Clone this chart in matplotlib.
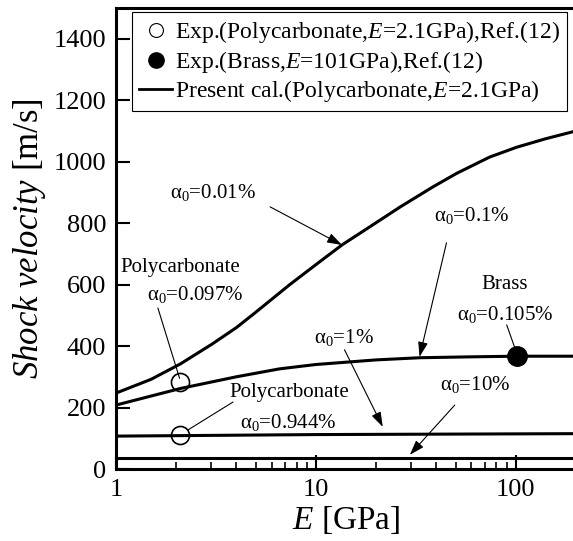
import matplotlib
matplotlib.use("Agg")
import matplotlib.pyplot as plt
from matplotlib.lines import Line2D

# ---- data ----
E_001 = [1, 1.5, 2.1, 3, 4, 5, 7.4, 10, 13.5, 18.6, 26.3, 38.5, 50.6, 74, 101, 140, 200]
V_001 = [247, 292, 342, 405, 460, 510, 600, 665, 729, 788, 852, 918, 962, 1015, 1047, 1074, 1100]

E_01 = [1, 2.1, 4, 6.6, 10, 20, 33, 60, 100, 200]
V_01 = [208, 262, 300, 326, 340, 355, 362, 365, 367, 367]

E_1 = [1, 10, 200]
V_1 = [107, 112, 115]

E_10 = [1, 200]
V_10 = [37, 37]

EXP_PC_E = [2.1, 2.1]
EXP_PC_V = [283, 112]
EXP_BR_E = [101]
EXP_BR_V = [368]

YTICKS = [0, 200, 400, 600, 800, 1000, 1200, 1400]
XTICKS = [1, 10, 100]
XTICKLABELS = ["1", "10", "100"]

FONT = "Liberation Serif"
plt.rcParams.update({
    "font.family": FONT,
    "mathtext.fontset": "custom",
    "mathtext.rm": FONT,
    "mathtext.it": FONT + ":italic",
    "mathtext.bf": FONT + ":bold",
})

fig = plt.figure(figsize=(5.73, 5.41), dpi=100)
ax = fig.add_axes([116 / 573, 1 - 469 / 541, 460 / 573, 461 / 541])

lw = 2.2
ax.plot(E_001, V_001, color="black", lw=lw)
ax.plot(E_01, V_01, color="black", lw=lw)
ax.plot(E_1, V_1, color="black", lw=lw)
ax.plot(E_10, V_10, color="black", lw=lw)
ax.plot(EXP_PC_E, EXP_PC_V, "o", ms=13, mfc="none", mec="black", mew=1.2, zorder=5)
ax.plot(EXP_BR_E, EXP_BR_V, "o", ms=14, color="black", zorder=5)

ax.set_xscale("log")
ax.set_xlim(1, 200)
ax.set_ylim(0, 1500)
ax.set_xticks(XTICKS)
ax.set_xticklabels(XTICKLABELS)
ax.set_yticks(YTICKS)
ax.tick_params(which="major", direction="in", length=10, width=1.5, labelsize=19, pad=7)
ax.tick_params(which="minor", direction="in", length=5, width=1.2)
ax.tick_params(axis="y", which="minor", left=False)
for s in ax.spines.values():
    s.set_linewidth(2.2)

ax.set_xlabel(r"$E$ [GPa]", fontsize=24, labelpad=2)
ax.set_ylabel(r"$Shock\ velocity$ [m/s]", fontsize=25, labelpad=4)

# ---- annotations ----
tsz = 15
arrow = dict(arrowstyle="-|>,head_length=0.9,head_width=0.3", color="black", lw=0.8,
             shrinkA=0, shrinkB=0)
plain = dict(arrowstyle="-", color="black", lw=0.8, shrinkA=0, shrinkB=0)
A0 = r"α$_0$="

ax.text(3.05, 899, A0 + "0.01%", fontsize=tsz, ha="center", va="center")
ax.annotate("", xy=(13.5, 729), xytext=(5.9, 853), arrowprops=arrow)

ax.text(60, 824, A0 + "0.1%", fontsize=tsz, ha="center", va="center")
ax.annotate("", xy=(33, 365), xytext=(45, 736), arrowprops=arrow)

ax.text(2.09, 655, "Polycarbonate", fontsize=tsz, ha="center", va="center")
ax.text(2.48, 567, A0 + "0.097%", fontsize=tsz, ha="center", va="center")
ax.annotate("", xy=(2.08, 295), xytext=(1.62, 524), arrowprops=plain)

ax.text(88, 599, "Brass", fontsize=tsz, ha="center", va="center")
ax.text(88, 502, A0 + "0.105%", fontsize=tsz, ha="center", va="center")
ax.annotate("", xy=(100, 385), xytext=(90, 469), arrowprops=plain)

ax.text(13.8, 427, A0 + "1%", fontsize=tsz, ha="center", va="center")
ax.annotate("", xy=(21.6, 137), xytext=(13.9, 388), arrowprops=arrow)

ax.text(7.33, 248, "Polycarbonate", fontsize=tsz, ha="center", va="center")
ax.text(7.24, 150, A0 + "0.944%", fontsize=tsz, ha="center", va="center")
ax.annotate("", xy=(2.29, 127), xytext=(3.85, 218), arrowprops=plain)

ax.text(62.6, 274, A0 + "10%", fontsize=tsz, ha="center", va="center")
ax.annotate("", xy=(29.5, 46), xytext=(49.5, 208), arrowprops=arrow)

# ---- legend ----
handles = [
    Line2D([], [], ls="none", marker="o", ms=10, mfc="none", mec="black", mew=0.8),
    Line2D([], [], ls="none", marker="o", ms=11, color="black"),
    Line2D([], [], color="black", lw=2),
]
labels = [
    r"Exp.(Polycarbonate,$E$=2.1GPa),Ref.(12)",
    r"Exp.(Brass,$E$=101GPa),Ref.(12)",
    r"Present cal.(Polycarbonate,$E$=2.1GPa)",
]
leg = ax.legend(handles, labels, loc="upper right", bbox_to_anchor=(0.980, 0.991),
                borderaxespad=0, fontsize=17, handlelength=1.4, handletextpad=0.1,
                labelspacing=0.15, borderpad=0.3, fancybox=False, framealpha=1)
leg.get_frame().set_edgecolor("black")
leg.get_frame().set_linewidth(0.8)

fig.savefig("out.png", dpi=100)
